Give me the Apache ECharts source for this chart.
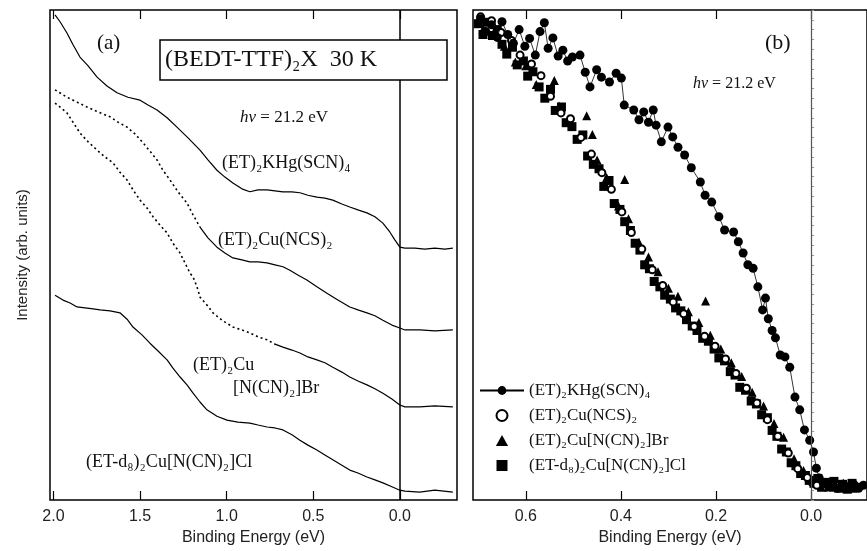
<!DOCTYPE html>
<html lang="en">
<head>
<meta charset="UTF-8">
<title>BEDT-TTF photoemission</title>
<style>
  html, body { margin: 0; padding: 0; background: #fff; }
  #main { width: 867px; height: 551px; }
</style>
</head>
<body>
<div id="main"></div>
<script src="https://cdn.jsdelivr.net/npm/echarts@6/dist/echarts.min.js"></script>
<script>
// panel (a): spectra, [binding energy eV, intensity arb.]
var aKHg = [[1.991,99.0],[1.962,97.6],[1.922,95.3],[1.887,92.9],[1.847,90.4],[1.800,88.6],[1.748,86.3],[1.691,84.5],[1.633,83.1],[1.570,82.2],[1.500,81.6],[1.454,80.6],[1.402,79.6],[1.344,78.0],[1.287,76.1],[1.223,73.9],[1.154,71.4],[1.108,69.4],[1.056,67.3],[1.010,65.9],[0.964,64.7],[0.912,63.5],[0.866,62.9],[0.819,63.3],[0.767,63.3],[0.721,63.1],[0.675,62.9],[0.623,62.9],[0.577,62.7],[0.531,62.2],[0.479,61.8],[0.433,61.6],[0.387,61.2],[0.335,60.4],[0.289,59.8],[0.242,59.2],[0.190,58.6],[0.144,57.8],[0.098,56.5],[0.058,54.7],[0.029,53.1],[0.000,51.6],[-0.029,51.4],[-0.087,51.4],[-0.144,51.2],[-0.202,51.4],[-0.260,51.2],[-0.306,51.4]];
var aNCS = [[1.991,83.7],[1.922,82.2],[1.864,81.2],[1.806,80.2],[1.743,79.2],[1.673,78.2],[1.627,77.1],[1.575,76.1],[1.529,74.7],[1.483,72.9],[1.443,71.2],[1.402,69.4],[1.368,67.3],[1.327,65.3],[1.281,62.9],[1.229,60.6],[1.194,58.2],[1.154,55.7],[1.108,53.5],[1.056,51.6],[1.010,50.4],[0.964,49.4],[0.912,49.0],[0.866,48.6],[0.819,48.6],[0.767,48.4],[0.721,48.0],[0.675,47.6],[0.635,46.9],[0.589,45.9],[0.537,44.9],[0.479,43.5],[0.421,42.2],[0.358,40.8],[0.289,39.4],[0.242,38.8],[0.190,38.2],[0.144,37.6],[0.098,36.7],[0.046,35.7],[0.000,35.1],[-0.029,34.7],[-0.115,34.7],[-0.202,34.5],[-0.306,34.7]];
var aBr = [[1.991,81.0],[1.962,80.2],[1.922,79.0],[1.887,77.1],[1.847,74.9],[1.800,73.1],[1.748,71.4],[1.702,70.0],[1.656,68.8],[1.616,66.9],[1.575,65.3],[1.541,63.3],[1.500,61.2],[1.460,59.6],[1.425,57.8],[1.385,56.1],[1.344,54.5],[1.310,52.4],[1.269,50.4],[1.241,48.4],[1.212,46.3],[1.194,45.5],[1.171,43.5],[1.154,41.4],[1.114,39.8],[1.079,38.2],[1.027,36.7],[0.964,35.3],[0.912,34.7],[0.866,34.1],[0.819,33.3],[0.767,32.7],[0.721,31.8],[0.675,31.2],[0.623,30.6],[0.577,30.0],[0.531,29.2],[0.479,28.6],[0.433,28.0],[0.387,27.1],[0.335,26.1],[0.289,25.1],[0.242,24.3],[0.190,23.5],[0.144,22.7],[0.098,21.8],[0.046,20.6],[0.000,19.4],[-0.029,19.0],[-0.115,19.0],[-0.202,19.2],[-0.306,19.0]];
var aCl = [[1.991,41.8],[1.945,40.8],[1.904,40.2],[1.864,39.4],[1.818,39.2],[1.771,39.0],[1.731,38.8],[1.673,38.6],[1.616,38.2],[1.575,36.9],[1.541,35.3],[1.489,33.7],[1.443,32.0],[1.396,30.4],[1.344,28.6],[1.310,26.9],[1.269,25.1],[1.229,23.5],[1.194,21.8],[1.154,20.0],[1.114,18.4],[1.056,17.1],[0.998,16.3],[0.935,15.9],[0.866,15.7],[0.819,15.3],[0.767,14.9],[0.721,14.7],[0.675,14.3],[0.623,13.3],[0.577,12.2],[0.531,11.2],[0.479,10.2],[0.433,9.2],[0.387,8.2],[0.335,7.1],[0.289,6.1],[0.242,5.5],[0.190,4.7],[0.144,4.1],[0.098,3.5],[0.046,2.7],[0.000,2.0],[-0.029,1.8],[-0.115,1.6],[-0.202,2.0],[-0.306,1.6]];

// panel (b): leading edge, normalised
var bKHg = [[0.695,98.2],[0.684,95.6],[0.672,97.0],[0.660,94.4],[0.650,97.6],[0.638,95.0],[0.626,93.2],[0.614,96.0],[0.602,92.6],[0.592,94.2],[0.580,90.8],[0.570,95.6],[0.561,97.4],[0.553,92.2],[0.543,94.3],[0.532,90.6],[0.522,91.8],[0.512,89.6],[0.502,90.4],[0.486,90.8],[0.475,87.3],[0.465,84.3],[0.451,87.8],[0.441,86.3],[0.424,85.3],[0.410,87.1],[0.399,86.1],[0.393,80.6],[0.373,79.6],[0.362,77.6],[0.352,79.2],[0.342,77.1],[0.332,79.6],[0.326,76.5],[0.315,73.1],[0.301,76.1],[0.291,74.1],[0.280,72.0],[0.266,70.4],[0.252,67.8],[0.233,64.9],[0.223,62.2],[0.209,60.8],[0.194,57.8],[0.182,55.1],[0.163,54.7],[0.153,52.7],[0.143,50.4],[0.133,48.0],[0.122,47.3],[0.112,43.5],[0.102,38.8],[0.096,41.2],[0.090,37.0],[0.082,34.6],[0.075,33.1],[0.065,29.6],[0.055,29.2],[0.045,27.1],[0.034,21.0],[0.024,18.4],[0.014,14.3],[0.003,12.2],[-0.005,9.8],[-0.011,6.5],[-0.017,4.5],[-0.026,3.4],[-0.036,2.8],[-0.046,3.6],[-0.056,2.4],[-0.066,3.2],[-0.078,2.6],[-0.090,3.0],[-0.100,2.4],[-0.110,3.0]];
var bNCS = [[0.695,98.6],[0.672,97.8],[0.652,95.4],[0.630,93.8],[0.612,90.8],[0.588,89.0],[0.568,86.6],[0.548,82.4],[0.526,79.0],[0.506,77.8],[0.484,74.0],[0.462,70.6],[0.440,66.8],[0.420,63.4],[0.398,58.8],[0.378,54.6],[0.356,51.2],[0.334,47.0],[0.312,43.8],[0.290,40.4],[0.268,38.0],[0.246,35.4],[0.224,33.4],[0.202,31.4],[0.180,28.8],[0.158,25.8],[0.136,22.8],[0.114,19.8],[0.092,16.4],[0.070,13.0],[0.048,9.6],[0.028,6.4],[0.008,4.6],[-0.012,3.0],[-0.032,2.6],[-0.052,3.0],[-0.072,2.8],[-0.090,3.2]];
var bBr = [[0.690,96.0],[0.668,95.2],[0.645,92.6],[0.622,89.4],[0.600,88.6],[0.578,84.8],[0.540,85.6],[0.530,80.4],[0.508,77.4],[0.472,78.4],[0.460,74.6],[0.450,69.4],[0.430,65.8],[0.392,65.4],[0.405,60.0],[0.384,57.4],[0.362,52.6],[0.342,49.6],[0.322,46.6],[0.300,43.2],[0.280,41.6],[0.258,38.4],[0.236,36.2],[0.222,40.6],[0.212,33.6],[0.190,30.8],[0.168,28.0],[0.146,25.2],[0.124,22.0],[0.100,19.2],[0.078,15.6],[0.058,12.8],[0.036,8.4],[0.016,6.0],[-0.004,3.8],[-0.026,3.2],[-0.046,2.6],[-0.068,3.4],[-0.088,2.4]];
var bCl = [[0.700,97.2],[0.690,95.0],[0.682,97.5],[0.670,94.8],[0.660,96.0],[0.650,93.0],[0.640,91.0],[0.628,92.4],[0.618,88.8],[0.605,89.6],[0.596,86.5],[0.585,87.4],[0.572,84.3],[0.560,82.0],[0.548,83.8],[0.538,79.5],[0.525,80.2],[0.515,77.0],[0.503,76.2],[0.492,73.6],[0.480,74.5],[0.470,70.2],[0.458,68.5],[0.446,67.6],[0.436,64.0],[0.425,65.2],[0.414,60.5],[0.402,59.3],[0.392,56.8],[0.380,55.0],[0.370,52.4],[0.360,51.0],[0.350,48.0],[0.340,47.2],[0.330,44.6],[0.318,43.5],[0.308,41.8],[0.296,41.0],[0.285,39.2],[0.274,38.6],[0.262,36.8],[0.250,35.5],[0.240,34.6],[0.228,33.0],[0.216,32.4],[0.204,30.8],[0.194,29.0],[0.182,28.4],[0.170,26.2],[0.160,25.5],[0.150,23.0],[0.138,22.4],[0.126,20.2],[0.115,19.6],[0.104,17.4],[0.092,16.8],[0.082,14.2],[0.072,13.0],[0.062,10.4],[0.052,9.8],[0.042,7.6],[0.032,7.0],[0.022,5.4],[0.012,5.0],[0.004,4.0],[-0.006,3.4],[-0.014,4.4],[-0.022,2.6],[-0.030,3.6],[-0.040,2.8],[-0.048,3.8],[-0.058,2.4],[-0.066,3.2],[-0.076,2.2],[-0.086,3.4],[-0.094,2.6]];

var aTicks = [0, 0.5, 1.0, 1.5, 2.0];
var bTicks = [0, 0.2, 0.4, 0.6];
var names = ['(ET)₂KHg(SCN)₄', '(ET)₂Cu(NCS)₂', '(ET)₂Cu[N(CN)₂]Br', '(ET-d₈)₂Cu[N(CN)₂]Cl'];

var serif = 'Liberation Serif';
var sans = 'Liberation Sans';
var triPath = 'path://M5,0L10,9L0,9Z';
var sqPath = 'path://M0,0H10V10H0Z';

function xAx(grid, lo, hi, ticks, top) {
    return {
        gridIndex: grid, type: 'value', min: lo, max: hi, inverse: true,
        position: top ? 'top' : 'bottom',
        axisLine: { show: false },
        axisTick: { show: true, inside: true, length: 9, customValues: ticks, lineStyle: { color: '#000', width: 1.2 } },
        axisLabel: { show: !top, customValues: ticks, margin: 9, fontFamily: sans, fontSize: 16, color: '#222',
            formatter: function (v) { return v.toFixed(1); } },
        splitLine: { show: false },
        name: top ? '' : 'Binding Energy (eV)', nameLocation: 'middle', nameGap: 29,
        nameTextStyle: { fontFamily: sans, fontSize: 16, color: '#222' }
    };
}

var zeroLine = {
    silent: true, symbol: 'none', label: { show: false },
    lineStyle: { color: '#000', width: 1.5, type: 'solid' },
    data: [{ xAxis: 0 }]
};

function specLine(name, data, dashed) {
    return {
        name: name, type: 'line', xAxisIndex: 0, yAxisIndex: 0, data: data,
        showSymbol: false, symbol: 'none',
        lineStyle: { color: '#000', width: dashed ? 1.6 : 1.2, type: dashed ? [2, 3] : 'solid' }
    };
}

var chart = echarts.init(document.getElementById('main'));
chart.setOption({
    animation: false,
    backgroundColor: '#fff',
    grid: [
        { left: 50, top: 10, right: 410, bottom: 51, show: true, borderColor: '#000', borderWidth: 1.5 },
        { left: 473, top: 10, right: -10, bottom: 51, show: true, borderColor: '#000', borderWidth: 1.5 }
    ],
    xAxis: [
        xAx(0, -0.33, 2.02, aTicks, false),
        xAx(0, -0.33, 2.02, aTicks, true),
        xAx(1, -0.1175, 0.711, bTicks, false),
        xAx(1, -0.1175, 0.711, bTicks, true)
    ],
    yAxis: [
        { gridIndex: 0, type: 'value', min: 0, max: 100, axisLine: { show: false }, axisTick: { show: false },
          axisLabel: { show: false }, splitLine: { show: false },
          name: 'Intensity (arb. units)', nameLocation: 'middle', nameGap: 20,
          nameTextStyle: { fontFamily: sans, fontSize: 15, color: '#222' } },
        { gridIndex: 1, type: 'value', min: 0, max: 100, interval: 2, axisLine: { show: false },
          axisTick: { show: true, inside: true, length: 3, lineStyle: { color: '#999', width: 1 } },
          axisLabel: { show: false }, splitLine: { show: false } }
    ],
    legend: {
        data: [
            { name: names[0] },
            { name: names[1] },
            { name: names[2], icon: triPath },
            { name: names[3], icon: sqPath }
        ],
        orient: 'vertical', left: 474, top: 377,
        itemWidth: 44, itemHeight: 11, itemGap: 8, symbolKeepAspect: true,
        textStyle: { fontFamily: serif, fontSize: 17, color: '#111' },
        selectedMode: false
    },
    series: [
        Object.assign(specLine('a1', aKHg, false), { markLine: zeroLine }),
        specLine('a2', aNCS.slice(0, 18), true),
        specLine('a2b', aNCS.slice(17), false),
        specLine('a3', aBr.slice(0, 33), true),
        specLine('a3b', aBr.slice(32), false),
        specLine('a4', aCl, false),
        { name: names[2], type: 'scatter', xAxisIndex: 2, yAxisIndex: 1, data: bBr,
          symbol: 'triangle', symbolSize: 9, itemStyle: { color: '#000', opacity: 1 },
          markLine: Object.assign({}, zeroLine, { lineStyle: { color: '#555', width: 1.2, type: 'solid' } }) },
        { name: names[3], type: 'scatter', xAxisIndex: 2, yAxisIndex: 1, data: bCl,
          symbol: 'rect', symbolSize: 9, itemStyle: { color: '#000', opacity: 1 } },
        { name: names[1], type: 'scatter', xAxisIndex: 2, yAxisIndex: 1, data: bNCS,
          symbol: 'emptyCircle', symbolSize: 7, itemStyle: { color: '#000', borderWidth: 1.2, opacity: 1 } },
        { name: names[0], type: 'line', xAxisIndex: 2, yAxisIndex: 1, data: bKHg,
          symbol: 'circle', symbolSize: 9, showAllSymbol: true,
          itemStyle: { color: '#000' }, lineStyle: { color: '#000', width: 0.8 } }
    ],
    graphic: [
        { type: 'text', z: 100, x: 97, y: 43, style: { text: '(a)', fontFamily: serif, fontSize: 21, fill: '#111', verticalAlign: 'middle' } },
        { type: 'rect', z: 100, shape: { x: 160, y: 40, width: 287, height: 40 }, style: { fill: '#fff', stroke: '#000', lineWidth: 1.5 } },
        { type: 'text', z: 101, x: 165, y: 60, style: { text: '(BEDT-TTF)₂X  30 K', fontFamily: serif, fontSize: 24, fill: '#111', verticalAlign: 'middle' } },
        { type: 'text', z: 100, x: 240, y: 118, style: { text: '{i|hν} = 21.2 eV', fontFamily: serif, fontSize: 17, fill: '#111', verticalAlign: 'middle',
            rich: { i: { fontFamily: serif, fontSize: 17, fontStyle: 'italic', fill: '#111' } } } },
        { type: 'text', z: 100, x: 222, y: 163, style: { text: names[0], fontFamily: serif, fontSize: 18, fill: '#111', verticalAlign: 'middle' } },
        { type: 'text', z: 100, x: 218, y: 240, style: { text: names[1], fontFamily: serif, fontSize: 18, fill: '#111', verticalAlign: 'middle' } },
        { type: 'text', z: 100, x: 193, y: 365, style: { text: '(ET)₂Cu', fontFamily: serif, fontSize: 18, fill: '#111', verticalAlign: 'middle' } },
        { type: 'text', z: 100, x: 233, y: 388, style: { text: '[N(CN)₂]Br', fontFamily: serif, fontSize: 18, fill: '#111', verticalAlign: 'middle' } },
        { type: 'text', z: 100, x: 86, y: 462, style: { text: names[3], fontFamily: serif, fontSize: 18, fill: '#111', verticalAlign: 'middle' } },
        { type: 'text', z: 100, x: 765, y: 43, style: { text: '(b)', fontFamily: serif, fontSize: 22, fill: '#111', verticalAlign: 'middle' } },
        { type: 'text', z: 100, x: 693, y: 84, style: { text: '{i|hν} = 21.2 eV', fontFamily: serif, fontSize: 16, fill: '#111', verticalAlign: 'middle',
            rich: { i: { fontFamily: serif, fontSize: 16, fontStyle: 'italic', fill: '#111' } } } }
    ]
});
</script>
</body>
</html>
